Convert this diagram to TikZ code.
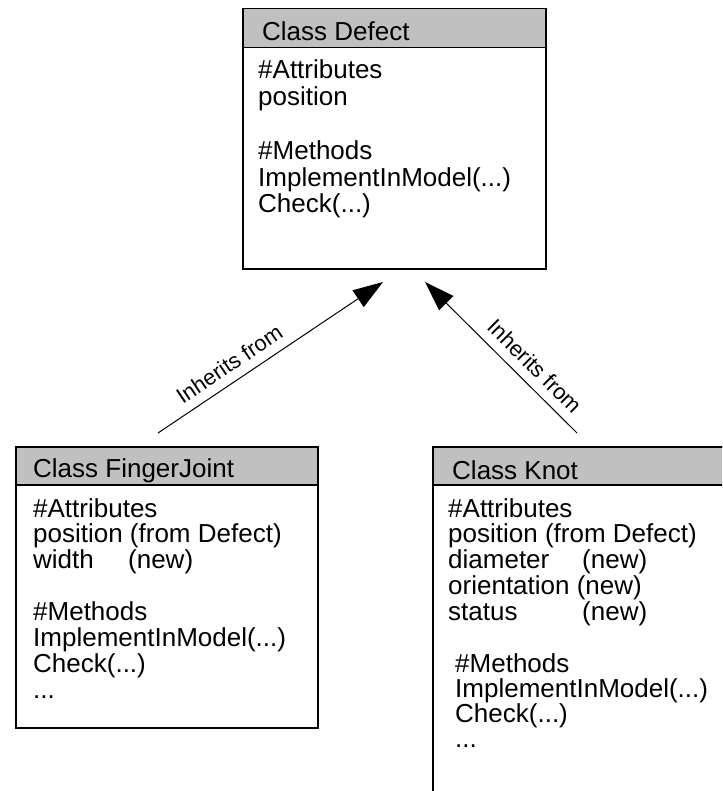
\documentclass[tikz,border=0pt]{standalone}
\usepackage{fontspec}
\setmainfont{Liberation Sans}
\usetikzlibrary{arrows.meta}
\definecolor{hdrgray}{RGB}{192,192,192}
\newcommand{\classlines}[2]{\vtop{\baselineskip=#1\lineskiplimit=-20pt\lineskip=0pt\halign{##\hfil\cr#2\crcr}}}
\begin{document}
\begin{tikzpicture}[x=1pt,y=-1pt,
  classbox/.style={draw=black, line width=1.5pt, fill=white, inner sep=0pt, anchor=north west},
  hdrbox/.style={draw=black, line width=1.5pt, fill=hdrgray, inner sep=0pt, anchor=north west},
  txt/.style={font=\fontsize{26}{26.6}\selectfont, inner sep=0pt, anchor=base west},
  lbl/.style={font=\fontsize{22}{24}\selectfont, sloped, above, inner sep=9pt},
  inh/.style={line width=1pt, -{Triangle[length=30pt,width=20pt]}}]
\useasboundingbox (0,0) rectangle (722,791);
\clip (0,0) rectangle (722,791);
\fill[white] (0,0) rectangle (722,791);
% Class Defect
\node[classbox, minimum width=303pt, minimum height=260pt] (defect) at (242,8) {};
\node[hdrbox, minimum width=303pt, minimum height=39pt] (defecthdr) at (242,8) {};
\node[txt] (defecttitle) at (262,41) {Class Defect};
\node[txt] (defectbody) at (258,79) {\classlines{26.8pt}{\#Attributes\cr position\cr\cr \#Methods\cr ImplementInModel(...)\cr Check(...)}};
% Class FingerJoint
\node[classbox, minimum width=302pt, minimum height=281pt] (finger) at (15,446) {};
\node[hdrbox, minimum width=302pt, minimum height=38pt] (fingerhdr) at (15,446) {};
\node[txt] (fingertitle) at (33,477) {Class FingerJoint};
\node[txt] (fingerbody) at (33,517) {\classlines{25.9pt}{\#Attributes\cr position (from Defect)\cr \makebox[95pt][l]{width}(new)\cr\cr \#Methods\cr ImplementInModel(...)\cr Check(...)\cr ...}};
% Class Knot (runs past the right and bottom edges)
\node[classbox, minimum width=330pt, minimum height=400pt] (knot) at (432,446) {};
\node[hdrbox, minimum width=330pt, minimum height=38pt] (knothdr) at (432,446) {};
\node[txt] (knottitle) at (452,479) {Class Knot};
\node[txt] (knotattr) at (448,517) {\classlines{25.8pt}{\#Attributes\cr position (from Defect)\cr \makebox[134pt][l]{diameter}(new)\cr orientation (new)\cr \makebox[134pt][l]{status}(new)}};
\node[txt] (knotmeth) at (455,672) {\classlines{25pt}{\#Methods\cr ImplementInModel(...)\cr Check(...)\cr ...}};
% inheritance connectors
\coordinate (fingerout) at (158,433);
\coordinate (defectinL) at (383,282);
\coordinate (knotout) at (577,433);
\coordinate (defectinR) at (425,282);
\draw[inh] (fingerout) -- (defectinL) node[lbl, pos=0.36] (lblL) {Inherits from};
\draw[inh] (knotout) -- (defectinR) node[lbl, pos=0.36] (lblR) {Inherits from};
\end{tikzpicture}
\end{document}
